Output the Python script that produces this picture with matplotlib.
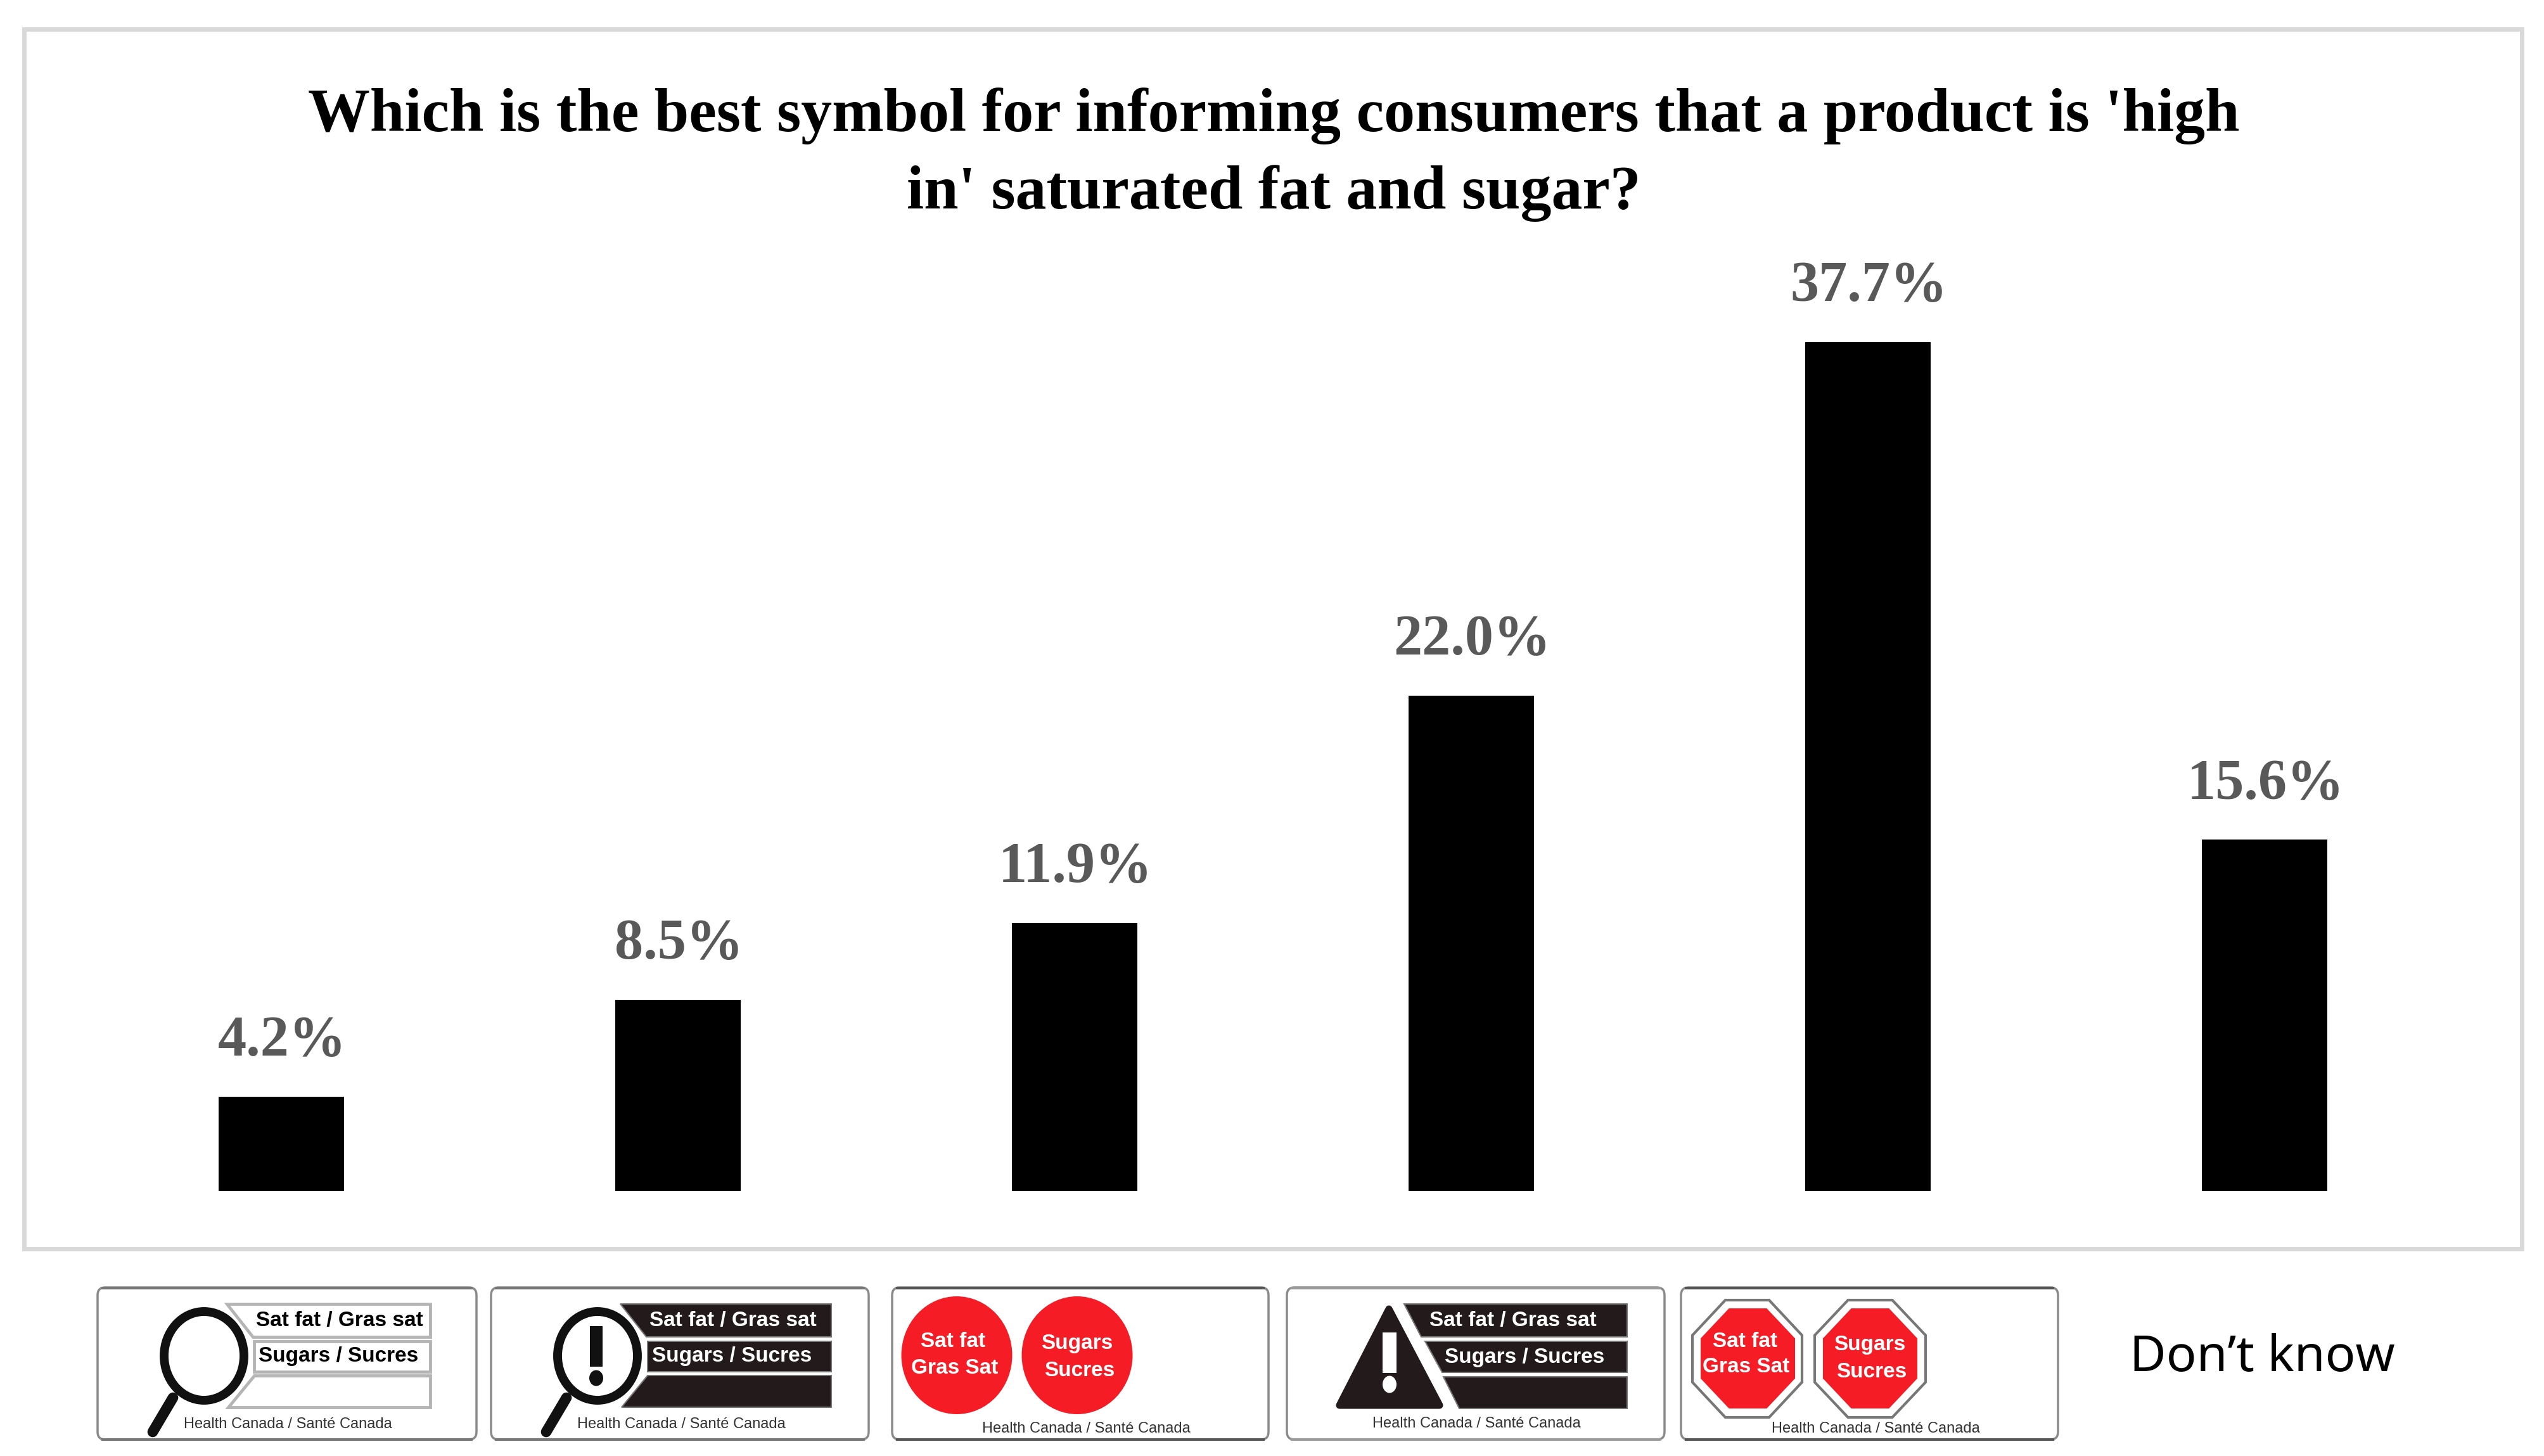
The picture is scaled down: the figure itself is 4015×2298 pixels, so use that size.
import matplotlib
matplotlib.use('Agg')
import matplotlib.pyplot as plt
from matplotlib import font_manager
from matplotlib.patches import Ellipse, FancyBboxPatch, Polygon, Rectangle

# chart data
categories = ['Magnifier outline', 'Magnifier exclamation', 'Red circles',
              'Warning triangle', 'Stop sign', "Don't know"]
percent = [4.2, 8.5, 11.9, 22.0, 37.7, 15.6]
title = "Which is the best symbol for informing consumers that a product is 'high\nin' saturated fat and sugar?"
sat_label = 'Sat fat / Gras sat'
sug_label = 'Sugars / Sucres'
hc_label = 'Health Canada / Santé Canada'

W, H = 4015, 2298
DARK = '#231a1c'
RED = '#f51c25'

installed = {f.name for f in font_manager.fontManager.ttflist}
SANS = 'Liberation Sans Narrow' if 'Liberation Sans Narrow' in installed else 'Liberation Sans'

fig = plt.figure(figsize=(W / 100, H / 100), dpi=100, facecolor='white')

# pixel overlay for the frame, title and the symbol pictures
ov = fig.add_axes([0, 0, 1, 1], zorder=0)
ov.set_xlim(0, W)
ov.set_ylim(H, 0)
ov.axis('off')

# bar chart, 35.5 px per percent with baseline at y=1880
ax = fig.add_axes([131 / W, (H - 1880) / H, 3756 / W, 1422 / H], zorder=1)
ax.patch.set_alpha(0)
ax.bar(range(len(percent)), percent, width=0.315, color='black')
ax.set_xlim(-0.5, 5.5)
ax.set_ylim(0, 40)
ax.axis('off')
for i, v in enumerate(percent):
    ax.annotate(f'{v:.1f}%', (i, v), xytext=(1, 46.5), textcoords='offset points',
                ha='center', va='baseline', fontsize=65, fontweight='bold',
                family='Liberation Serif', color='#595959')

ov.add_patch(Rectangle((38, 46), 3942, 1925, fc='white', ec='#d9d9d9', lw=5))
ov.text(2010, 244, title, ha='center', va='center', fontsize=70.5, fontweight='bold',
        family='Liberation Serif', color='black', linespacing=1.46, multialignment='center')


def label(x, y, s, size=24, color='black', weight='bold'):
    ov.text(x, y, s, ha='center', va='center', fontsize=size, fontweight=weight,
            family=SANS, color=color)


def box(x0, x1, dark_edge='#555555'):
    ov.add_patch(FancyBboxPatch((x0 + 8, 2040), x1 - x0 - 16, 224,
                                boxstyle='round,pad=8,rounding_size=12',
                                fc='white', ec='#8a8a8a', lw=2.5))
    ov.plot([x0 + 8, x1 - 8], [2033, 2033], color=dark_edge, lw=3)
    ov.plot([x0 + 8, x1 - 8], [2272, 2272], color=dark_edge, lw=3)


def row(pts, dark):
    if dark:
        ov.add_patch(Polygon(pts, fc=DARK, ec='#777777', lw=1.5))
    else:
        ov.add_patch(Polygon(pts, fc='white', ec='#b5b5b5', lw=3.5))


def magnifier(x0, dark):
    right = x0 + (537 if dark else 525)
    ov.add_patch(Ellipse((x0 + 168, 2140), 126, 140, fc='white', ec='#111111', lw=10))
    ov.plot([x0 + 119, x0 + 87], [2206, 2260], color='#111111', lw=12, solid_capstyle='round')
    row([(x0 + 204, 2058), (right, 2058), (right, 2110), (x0 + 245, 2110)], dark)
    row([(x0 + 247, 2117), (right, 2117), (right, 2165), (x0 + 247, 2165)], dark)
    row([(x0 + 247, 2171), (right, 2171), (right, 2221), (x0 + 206, 2221)], dark)
    color = 'white' if dark else 'black'
    label(x0 + 382, 2085, sat_label, color=color)
    label(x0 + 380, 2140, sug_label, color=color)
    label(x0 + 300, 2248, hc_label, size=17, color='#333333', weight='normal')


def octagon(x0, x1, y0, y1, **kw):
    w, h = x1 - x0, y1 - y0
    fx = [0.3, 0.7, 1, 1, 0.7, 0.3, 0, 0]
    fy = [0, 0, 0.3, 0.7, 1, 1, 0.7, 0.3]
    ov.add_patch(Polygon([(x0 + a * w, y0 + b * h) for a, b in zip(fx, fy)], **kw))


# symbol 1
box(154, 752, dark_edge='#777777')
magnifier(154, False)

# symbol 2
box(775, 1371, dark_edge='#777777')
magnifier(775, True)
ov.add_patch(Rectangle((931, 2093), 20, 64, fc='#111111', ec='none'))
ov.add_patch(Ellipse((941, 2175), 22, 25, fc='#111111', ec='none'))

# symbol 3
box(1408, 2002)
ov.add_patch(Ellipse((1510, 2139), 175, 186, fc=RED, ec='none'))
ov.add_patch(Ellipse((1700, 2139), 175, 186, fc=RED, ec='none'))
label(1504, 2117, 'Sat fat', color='white')
label(1507, 2159, 'Gras Sat', color='white')
label(1700, 2121, 'Sugars', color='white')
label(1704, 2164, 'Sucres', color='white')
label(1714, 2255, hc_label, size=17, color='#333333', weight='normal')

# symbol 4
box(2031, 2627, dark_edge='#9a9a9a')
ov.add_patch(Polygon([(2192, 2066), (2272, 2218), (2114, 2218)], fc=DARK, ec=DARK,
                     lw=8, joinstyle='round'))
ov.add_patch(Rectangle((2182, 2103), 22, 64, fc='white', ec='none'))
ov.add_patch(Ellipse((2193, 2185), 22, 27, fc='white', ec='none'))
row([(2216, 2058), (2568, 2058), (2568, 2110), (2243, 2110)], True)
row([(2249, 2117), (2568, 2117), (2568, 2166), (2276, 2166)], True)
row([(2278, 2173), (2568, 2173), (2568, 2223), (2303, 2223)], True)
label(2388, 2085, sat_label, color='white')
label(2406, 2142, sug_label, color='white')
label(2330, 2247, hc_label, size=17, color='#333333', weight='normal')

# symbol 5
box(2653, 3248)
for x0, x1, ix0, ix1 in [(2671, 2844, 2684, 2833), (2864, 3039, 2877, 3026)]:
    octagon(x0, x1, 2052, 2237, fc='white', ec='#777777', lw=3)
    octagon(ix0, ix1, 2065, 2223, fc=RED, ec='none')
label(2754, 2118, 'Sat fat', color='white')
label(2756, 2158, 'Gras Sat', color='white')
label(2951, 2123, 'Sugars', color='white')
label(2954, 2165, 'Sucres', color='white')
label(2960, 2255, hc_label, size=17, color='#333333', weight='normal')

# last category has no symbol, only text
ov.text(3570, 2164, 'Don’t know', ha='center', va='baseline', fontsize=57,
        family='Noto Sans', color='black')

fig.savefig('out.png', dpi=100)
